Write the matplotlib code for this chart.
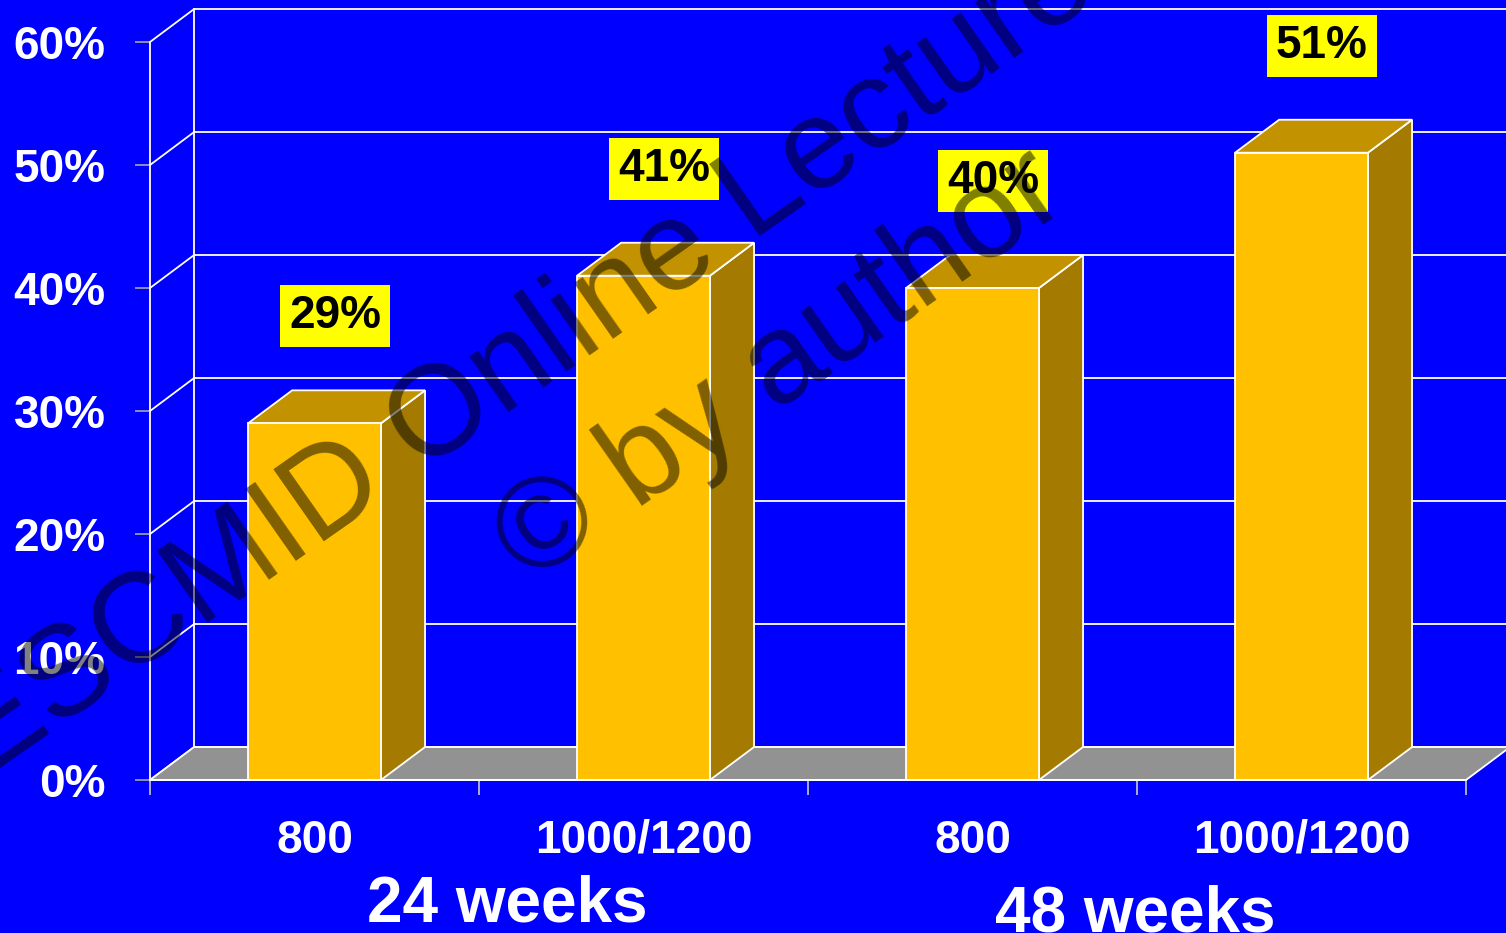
import matplotlib
matplotlib.use("Agg")
import matplotlib.pyplot as plt
from matplotlib.patches import Polygon, Rectangle

# dose groups and response rates (%)
doses = ["800", "1000/1200", "800", "1000/1200"]
rates = [29, 41, 40, 51]
value_labels = ["29%", "41%", "40%", "51%"]
periods = ["24 weeks", "48 weeks"]
y_ticks = [0, 10, 20, 30, 40, 50, 60]
y_tick_labels = ["0%", "10%", "20%", "30%", "40%", "50%", "60%"]

BLUE = "#0000FF"
FRONT = "#FFC000"
TOP = "#C29200"
SIDE = "#A47B00"
FLOOR = "#929292"
EDGE = "white"

# depth of the pseudo-3D box, in data units
DX = 0.134
DY = 2.68
BAR_W = 0.404

plt.rcParams["font.family"] = ["Liberation Sans", "DejaVu Sans"]

fig = plt.figure(figsize=(15.06, 9.33), dpi=100, facecolor=BLUE)
ax = fig.add_axes([150 / 1506, 153 / 933, 1316 / 1506, 738 / 933])
ax.set_facecolor("none")
ax.set_xlim(-0.5, 3.5)
ax.set_ylim(0, 60)

# back wall gridlines and left wall diagonals
x0 = -0.5
for y in y_ticks:
    ax.plot([x0 + DX, 3.5 + DX + 0.2], [y + DY, y + DY], color=EDGE, lw=1.3,
            clip_on=False, zorder=1)
    ax.plot([x0, x0 + DX], [y, y + DY], color=EDGE, lw=1.3, clip_on=False, zorder=1)
ax.plot([x0 + DX, x0 + DX], [DY, 60 + DY], color=EDGE, lw=1.3, clip_on=False, zorder=1)

# floor
floor = Polygon([(x0, 0), (3.5, 0), (3.5 + DX, DY), (x0 + DX, DY)], closed=True,
                facecolor=FLOOR, edgecolor=EDGE, lw=1.3, clip_on=False, zorder=2)
ax.add_patch(floor)

# bars
for i, v in enumerate(rates):
    l, r = i - BAR_W / 2, i + BAR_W / 2
    side = Polygon([(r, 0), (r + DX, DY), (r + DX, v + DY), (r, v)], closed=True,
                   facecolor=SIDE, edgecolor=EDGE, lw=1.3, clip_on=False, zorder=3)
    top = Polygon([(l, v), (r, v), (r + DX, v + DY), (l + DX, v + DY)], closed=True,
                  facecolor=TOP, edgecolor=EDGE, lw=1.3, clip_on=False, zorder=3)
    front = Rectangle((l, 0), BAR_W, v, facecolor=FRONT, edgecolor=EDGE, lw=1.3,
                      clip_on=False, zorder=4)
    ax.add_patch(side)
    ax.add_patch(top)
    ax.add_patch(front)
    ax.text(i + 0.062, v + 8.7, value_labels[i], ha="center", va="center",
            fontsize=33, fontweight="bold", color="black", zorder=6,
            bbox=dict(boxstyle="square,pad=0.2", facecolor="#FFFF00", edgecolor="none"))

# axes styling
for s in ["top", "right"]:
    ax.spines[s].set_visible(False)
for s in ["left", "bottom"]:
    ax.spines[s].set_color(EDGE)
    ax.spines[s].set_linewidth(1.3)
    ax.spines[s].set_zorder(5)

ax.set_yticks(y_ticks)
ax.set_yticklabels(y_tick_labels)
ax.tick_params(axis="y", length=11, width=1.2, color="#a8a8a8", pad=21,
               labelsize=33, labelcolor="white")
for t in ax.get_yticklabels():
    t.set_fontweight("bold")

ax.set_xticks([-0.5, 0.5, 1.5, 2.5, 3.5])
ax.set_xticklabels([])
ax.set_xticks(range(len(doses)), minor=True)
ax.set_xticklabels(doses, minor=True)
ax.tick_params(axis="x", which="major", length=11, width=1.2, color="#c8c8c8")
ax.tick_params(axis="x", which="minor", length=0, pad=28, labelsize=33,
               labelcolor="white")
for t in ax.get_xticklabels(minor=True):
    t.set_fontweight("bold")

# treatment duration labels
fig.text(507 / 1506, 1 - 922 / 933, periods[0], ha="center", va="baseline",
         fontsize=46, fontweight="bold", color="white")
fig.text(1135 / 1506, 1 - 931 / 933, periods[1], ha="center", va="baseline",
         fontsize=46, fontweight="bold", color="white")

# watermark
fig.text(542 / 1506, 1 - 388 / 933, "ESCMID Online Lecture", rotation=35,
         rotation_mode="anchor", ha="center", va="baseline", fontsize=92,
         color="black", alpha=0.5, zorder=10)
fig.text(801 / 1506, 1 - 395 / 933, "© by author", rotation=35,
         rotation_mode="anchor", ha="center", va="baseline", fontsize=92,
         color="black", alpha=0.5, zorder=10)

fig.savefig("out.png", dpi=100, facecolor=BLUE)
